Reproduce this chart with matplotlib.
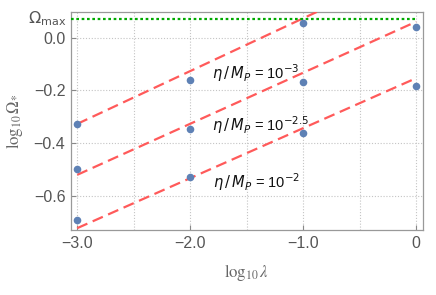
import matplotlib
matplotlib.use("Agg")
import matplotlib.pyplot as plt
import matplotlib.transforms as mtransforms
import numpy as np

plt.rcParams['font.family'] = ['Liberation Sans', 'DejaVu Sans']
plt.rcParams['mathtext.fontset'] = 'dejavusans'

# data
lam = [-3.0, -2.0, -1.0, 0.0]
omega_eta3 = [-0.327, -0.160, 0.055]          # eta/M_P = 10^-3 (x = -3, -2, -1)
omega_eta25 = [-0.497, -0.345, -0.169, 0.039]  # eta/M_P = 10^-2.5
omega_eta2 = [-0.690, -0.529, -0.362, -0.183]  # eta/M_P = 10^-2
fit_x = [-3.0, 0.0]
fit_eta3 = [-0.327, 0.273]
fit_eta25 = [-0.520, 0.060]
fit_eta2 = [-0.722, -0.154]
omega_max = 0.071
labels = [r'$\eta\,/\,M_P$ = 10$^{-3}$', r'$\eta\,/\,M_P$ = 10$^{-2.5}$', r'$\eta\,/\,M_P$ = 10$^{-2}$']
label_pos = [(-1.81, -0.134), (-1.81, -0.331), (-1.80, -0.547)]
xticks = [-3.0, -2.0, -1.0, 0.0]
xticklabels = ['\u22123.0', '\u22122.0', '\u22121.0', '0']
yticks = [0.0, -0.2, -0.4, -0.6]
yticklabels = ['0.0', '\u22120.2', '\u22120.4', '\u22120.6']

fig = plt.figure(figsize=(4.36, 2.95), dpi=100)
ax = fig.add_axes([71/436, 1-230/295, (423-71)/436, (230-12)/295])

red = '#FF5A5A'
blue = '#5E81B5'
for fy in [fit_eta3, fit_eta25, fit_eta2]:
    ax.plot(fit_x, fy, color=red, lw=1.6, dashes=(5, 2.6), zorder=3)

ax.axhline(omega_max, color='#00AA00', lw=1.6, ls=(0, (1.2, 1.2)), xmin=0.0, xmax=0.98, zorder=3)

ax.scatter(lam[:3], omega_eta3, s=30, color=blue, zorder=4, linewidths=0)
ax.scatter(lam, omega_eta25, s=30, color=blue, zorder=4, linewidths=0)
ax.scatter(lam, omega_eta2, s=30, color=blue, zorder=4, linewidths=0)

for lab, (x, y) in zip(labels, label_pos):
    ax.text(x, y, lab, fontsize=10.5, color='#111111', ha='left', va='center', zorder=5)

ax.set_xlim(-3.055, 0.062)
ax.set_ylim(-0.729, 0.097)

ax.set_xticks(xticks)
ax.set_xticklabels(xticklabels)
ax.set_yticks(yticks)
ax.set_yticklabels(yticklabels)
ax.tick_params(direction='in', length=3.5, width=0.8, colors='#888888', labelcolor='#555555', labelsize=11.5, pad=4)

for xv in [-3.0, -2.5, -2.0, -1.5, -1.0, -0.5, 0.0]:
    ax.axvline(xv, color='#C4C4C4', lw=0.8, ls=(0, (1, 1.6)), zorder=1)
for yv in yticks:
    ax.axhline(yv, color='#C4C4C4', lw=0.8, ls=(0, (1, 1.6)), zorder=1)

for sp in ax.spines.values():
    sp.set_color('#999999')
    sp.set_linewidth(0.9)

trans = mtransforms.blended_transform_factory(ax.transAxes, ax.transData)
ax.text(-0.012, omega_max, r'$\Omega_{\mathrm{max}}$', transform=trans, ha='right', va='center',
        fontsize=11.5, color='#555555')

ax.set_ylabel(r'$\log_{10}\Omega_{*}$', fontsize=12, color='#666666', math_fontfamily='stix', labelpad=6)
ax.set_xlabel(r'$\log_{10}\lambda$', fontsize=12, color='#666666', math_fontfamily='stix', labelpad=8)

fig.savefig('out.png', dpi=100)
